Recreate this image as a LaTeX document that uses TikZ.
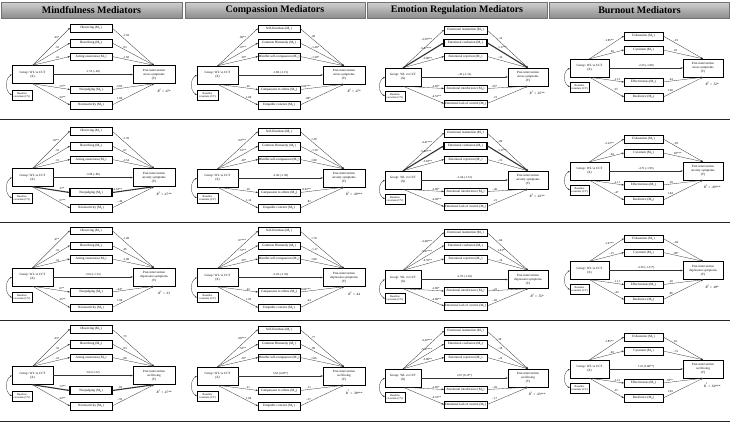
\documentclass[tikz,border=0pt]{standalone}
\usepackage{fontspec}
\setmainfont{Liberation Serif}
\usetikzlibrary{arrows.meta}
\tikzset{
 medbox/.style={draw, fill=white, inner sep=0pt, minimum height=7.5pt, font=\fontsize{3.3}{3.6}\selectfont},
 bigbox/.style={draw, fill=white, line width=0.4pt, inner sep=0pt, minimum height=18pt, align=center, font=\fontsize{3.2}{3.9}\selectfont},
 covbox/.style={draw, fill=white, line width=0.35pt, inner sep=0pt, minimum height=10pt, align=center, font=\fontsize{2.8}{3.3}\selectfont},
 coef/.style={font=\fontsize{3}{3.3}\selectfont, inner sep=0.6pt},
 rsq/.style={font=\fontsize{3.4}{3.7}\selectfont, inner sep=0pt, anchor=north},
 arr/.style={draw=black!80, -{Stealth[length=2.2pt,width=1.8pt]}},
 covarr/.style={draw=black!80, line width=0.3pt, {Stealth[length=2pt,width=1.6pt]}-{Stealth[length=2pt,width=1.6pt]}},
 headbox/.style={top color=black!18, bottom color=black!45, draw=black!55, line width=0.4pt, font=\fontsize{10}{12}\selectfont\bfseries, inner sep=0pt, minimum height=16pt},
 sepline/.style={draw=black!85, line width=0.6pt},
}
\newcommand\setcol[1]{\ifcase#1\or
 \def\xXl{12}\def\xXr{53}\def\xMl{70}\def\xMr{112}\def\xYl{133}\def\xYr{175}\def\xCr{32}\def\oX{54.5}\def\oC{75}\def\nup{3}%
 \def\oMi{8}\def\oMii{23}\def\oMiii{36.5}\def\oMiv{69.5}\def\oMv{85}\or
 \def\xXl{197}\def\xXr{238}\def\xMl{258}\def\xMr{300}\def\xYl{323}\def\xYr{365}\def\xCr{218}\def\oX{55}\def\oC{75}\def\nup{3}%
 \def\oMi{8.5}\def\oMii{23}\def\oMiii{36.5}\def\oMiv{69.5}\def\oMv{85}\or
 \def\xXl{385}\def\xXr{421}\def\xMl{444}\def\xMr{487}\def\xYl{508}\def\xYr{548}\def\xCr{405}\def\oX{57}\def\oC{76}\def\nup{3}%
 \def\oMi{10}\def\oMii{23}\def\oMiii{36.5}\def\oMiv{68.5}\def\oMv{83.5}\or
 \def\xXl{570}\def\xXr{609}\def\xMl{624}\def\xMr{663}\def\xYl{683}\def\xYr{723}\def\xCr{589}\def\oX{48}\def\oC{67}\def\nup{2}%
 \def\oMi{16}\def\oMii{30}\def\oMiii{62}\def\oMiv{77}\fi}
% panel: id, column, base y, Y text, direct effect, R2
\newcommand\panel[6]{\setcol{#2}\def\cb{#3}%
 \node[bigbox, minimum width={\xXr-\xXl}] (#1-X) at ({(\xXl+\xXr)/2},{#3+\oX}) {Group: WL vs CCT\\(X)};
 \node[bigbox, minimum width={\xYr-\xYl}] (#1-Y) at ({(\xYl+\xYr)/2},{#3+\oX}) {Post-intervention\\#4\\(Y)};
 \node[covbox, minimum width={\xCr-\xXl}] (#1-C) at ({(\xXl+\xCr)/2},{#3+\oC}) {Baseline\\covariate (CV)};
 \draw[arr, line width=0.3pt] (#1-X.east) -- (#1-Y.west) node[coef, midway, above=0.6pt] {#5};
 \draw[covarr] (#1-X.west) .. controls +(-7,4) and +(-7,-4) .. (#1-C.west);
 \node[rsq] (#1-R) at ([xshift=-11pt,yshift=-5pt]#1-Y.south east) {\textit{R}\textsuperscript{2} = #6};
}
% mediator: id, k, name, a, b, line width
\newcommand\med[6]{%
 \node[medbox, line width=#6, minimum width={\xMr-\xMl}] (#1-M#2) at ({(\xMl+\xMr)/2},{\cb+\csname oM\romannumeral#2\endcsname}) {#3 (M\textsubscript{#2})};
 \ifnum#2>\nup\relax
  \draw[arr, line width=#6] (#1-X.south) -- (#1-M#2.west) node[coef, pos=0.7, above right=-0.4pt] {#4};
  \draw[arr, line width=#6] (#1-M#2.east) -- (#1-Y.south) node[coef, pos=0.25, above left=-0.4pt] {#5};
 \else
  \draw[arr, line width=#6] (#1-X.north) -- (#1-M#2.west) node[coef, pos=0.72, above left=-0.4pt] {#4};
  \draw[arr, line width=#6] (#1-M#2.east) -- (#1-Y.north) node[coef, pos=0.25, above right=-0.4pt] {#5};
 \fi}
\def\n{0.3pt}\def\T{1.1pt}
\begin{document}
\begin{tikzpicture}[x=1pt,y=-1pt]
\path[fill=white] (0,0) rectangle (730,423);
\useasboundingbox (0,0) rectangle (730,423);
% headers
\node[headbox, minimum width=181pt] (h1) at (91.5,10) {Mindfulness Mediators};
\node[headbox, minimum width=180pt] (h2) at (275,10) {Compassion Mediators};
\node[headbox, minimum width=180pt] (h3) at (457,10) {Emotion Regulation Mediators};
\node[headbox, minimum width=180pt] (h4) at (639.5,10) {Burnout Mediators};
% row separators
\coordinate (s1l) at (0,119); \coordinate (s1r) at (730,119);
\coordinate (s2l) at (0,222); \coordinate (s2r) at (730,222);
\coordinate (s3l) at (0,320.5); \coordinate (s3r) at (730,320.5);
\coordinate (s4l) at (0,421); \coordinate (s4r) at (730,421);
\draw[sepline] (s1l) -- (s1r); \draw[sepline] (s2l) -- (s2r);
\draw[sepline] (s3l) -- (s3r); \draw[sepline] (s4l) -- (s4r);

% ================= ROW 1: stress
\panel{a1}{1}{20}{stress symptoms}{-1.53 (-.48)}{.47*}
\med{a1}{1}{Observing}{.43*}{-1.93}{\n}
\med{a1}{2}{Describing}{.32}{.93}{\n}
\med{a1}{3}{Acting awareness}{.41}{-1.58}{\n}
\med{a1}{4}{Nonjudging}{.73**}{-3.05}{\n}
\med{a1}{5}{Nonreactivity}{.34**}{1.86}{\n}

\panel{b1}{2}{20}{stress symptoms}{-1.80 (-1.15)}{.47*}
\med{b1}{1}{Self-Kindness}{.60**}{.40}{\n}
\med{b1}{2}{Common Humanity}{.47**}{-1.40*}{\n}
\med{b1}{3}{Mindful self-compassion}{.39*}{-1.30*}{\n}
\med{b1}{4}{Compassion to others}{.26}{-3.02***}{\n}
\med{b1}{5}{Empathic concern}{1.06}{.80*}{\n}

\panel{c1}{3}{20}{stress symptoms}{-.42 (-1.12)}{.45**}
\med{c1}{1}{Emotional inattention}{-4.39***}{-.14}{\n}
\med{c1}{2}{Emotional confusion}{-5.47***}{1.17**}{\T}
\med{c1}{3}{Emotional rejection}{-3.80**}{-.32}{\n}
\med{c1}{4}{Emotional interference}{-2.85*}{-.35*}{\n}
\med{c1}{5}{Emotional lack of control}{-4.53**}{.21}{\n}

\panel{d1}{4}{20}{stress symptoms}{-2.25 (-1.98)}{.52*}
\med{d1}{1}{Exhaustion}{-1.85**}{-.19}{\n}
\med{d1}{2}{Cynicism}{.49}{.18}{\n}
\med{d1}{3}{Effectiveness}{-1.13}{.44}{\n}
\med{d1}{4}{Resilience}{.33}{1.40}{\n}

% ================= ROW 2: anxiety
\panel{a2}{1}{123}{anxiety symptoms}{-3.98 (-.86)}{.47**}
\med{a2}{1}{Observing}{.45**}{-1.39}{\n}
\med{a2}{2}{Describing}{.32}{.67}{\n}
\med{a2}{3}{Acting awareness}{.31}{-1.54}{\n}
\med{a2}{4}{Nonjudging}{.37*}{-4.63**}{\T}
\med{a2}{5}{Nonreactivity}{.57**}{-.49}{\n}

\panel{b2}{2}{123}{anxiety symptoms}{-2.30 (-1.38)}{.49***}
\med{b2}{1}{Self-Kindness}{.64***}{1.38}{\n}
\med{b2}{2}{Common Humanity}{.61**}{-1.39}{\n}
\med{b2}{3}{Mindful self-compassion}{.49*}{1.08}{\n}
\med{b2}{4}{Compassion to others}{.16}{-0.02**}{\n}
\med{b2}{5}{Empathic concern}{1.14}{.81}{\n}

\panel{c2}{3}{123}{anxiety symptoms}{-1.44 (-1.15)}{.42**}
\med{c2}{1}{Emotional inattention}{-4.41***}{-.09}{\n}
\med{c2}{2}{Emotional confusion}{-5.46***}{1.17**}{\T}
\med{c2}{3}{Emotional rejection}{-3.83**}{-.11}{\n}
\med{c2}{4}{Emotional interference}{-2.86*}{-.40}{\n}
\med{c2}{5}{Emotional lack of control}{-4.60**}{.21}{\n}

\panel{d2}{4}{123}{anxiety symptoms}{-4.71 (-1.95)}{.49***}
\med{d2}{1}{Exhaustion}{-2.22**}{-.03}{\n}
\med{d2}{2}{Cynicism}{.04}{.83***}{\n}
\med{d2}{3}{Effectiveness}{-1.11}{.18}{\n}
\med{d2}{4}{Resilience}{-.47}{1.04}{\n}

% ================= ROW 3: depression
\panel{a3}{1}{222.5}{depression symptoms}{-3.62 (-1.13)}{.33}
\med{a3}{1}{Observing}{.47*}{-1.48}{\n}
\med{a3}{2}{Describing}{.33}{.46}{\n}
\med{a3}{3}{Acting awareness}{.41}{-1.08}{\n}
\med{a3}{4}{Nonjudging}{.67*}{-.44*}{\n}
\med{a3}{5}{Nonreactivity}{.35**}{1.00}{\n}

\panel{b3}{2}{222.5}{depression symptoms}{-2.29 (-1.39)}{.44}
\med{b3}{1}{Self-Kindness}{.67***}{1.70}{\n}
\med{b3}{2}{Common Humanity}{.53**}{-1.17}{\n}
\med{b3}{3}{Mindful self-compassion}{.39*}{1.00}{\n}
\med{b3}{4}{Compassion to others}{.22}{-0.04***}{\n}
\med{b3}{5}{Empathic concern}{1.03}{.44}{\n}

\panel{c3}{3}{222.5}{depression symptoms}{-2.78 (-1.65)}{.55*}
\med{c3}{1}{Emotional inattention}{-4.40***}{-.04}{\n}
\med{c3}{2}{Emotional confusion}{-5.47***}{1.43**}{\n}
\med{c3}{3}{Emotional rejection}{-4.70**}{-.14}{\n}
\med{c3}{4}{Emotional interference}{-2.80*}{-.22}{\n}
\med{c3}{5}{Emotional lack of control}{-4.80**}{-.02}{\n}

\panel{d3}{4}{222.5}{depression symptoms}{-2.95 (-1.31*)}{.49*}
\med{d3}{1}{Exhaustion}{-1.97**}{-.04}{\n}
\med{d3}{2}{Cynicism}{-.15}{.90*}{\n}
\med{d3}{3}{Effectiveness}{-1.11}{.18}{\n}
\med{d3}{4}{Resilience}{-.43}{.86}{\n}

% ================= ROW 4: well-being
\panel{a4}{1}{321}{well-being}{3.63 (1.22)}{.47**}
\med{a4}{1}{Observing}{.43*}{.73}{\n}
\med{a4}{2}{Describing}{.32}{.93}{\n}
\med{a4}{3}{Acting awareness}{.41}{.98}{\n}
\med{a4}{4}{Nonjudging}{.72**}{.93}{\T}
\med{a4}{5}{Nonreactivity}{.34**}{-.93}{\n}

\panel{b4}{2}{321}{well-being}{5.63 (4.05*)}{.38***}
\med{b4}{1}{Self-Kindness}{.60***}{.77}{\n}
\med{b4}{2}{Common Humanity}{.53**}{.90}{\n}
\med{b4}{3}{Mindful self-compassion}{.39*}{1.06}{\n}
\med{b4}{4}{Compassion to others}{.21}{.11}{\n}
\med{b4}{5}{Empathic concern}{1.04}{-.27}{\n}

\panel{c4}{3}{321}{well-being}{2.67 (6.15*)}{.43***}
\med{c4}{1}{Emotional inattention}{-4.39***}{.30}{\n}
\med{c4}{2}{Emotional confusion}{-5.47***}{-.18}{\n}
\med{c4}{3}{Emotional rejection}{-3.80**}{-.22}{\n}
\med{c4}{4}{Emotional interference}{-2.85*}{-.20}{\n}
\med{c4}{5}{Emotional lack of control}{-4.53**}{-.17}{\n}

\panel{d4}{4}{321}{well-being}{7.41 (5.08**)}{.64***}
\med{d4}{1}{Exhaustion}{-1.85**}{.01}{\n}
\med{d4}{2}{Cynicism}{.49}{-.31}{\n}
\med{d4}{3}{Effectiveness}{-1.13}{.70**}{\n}
\med{d4}{4}{Resilience}{.33}{1.03}{\n}
\end{tikzpicture}
\end{document}
